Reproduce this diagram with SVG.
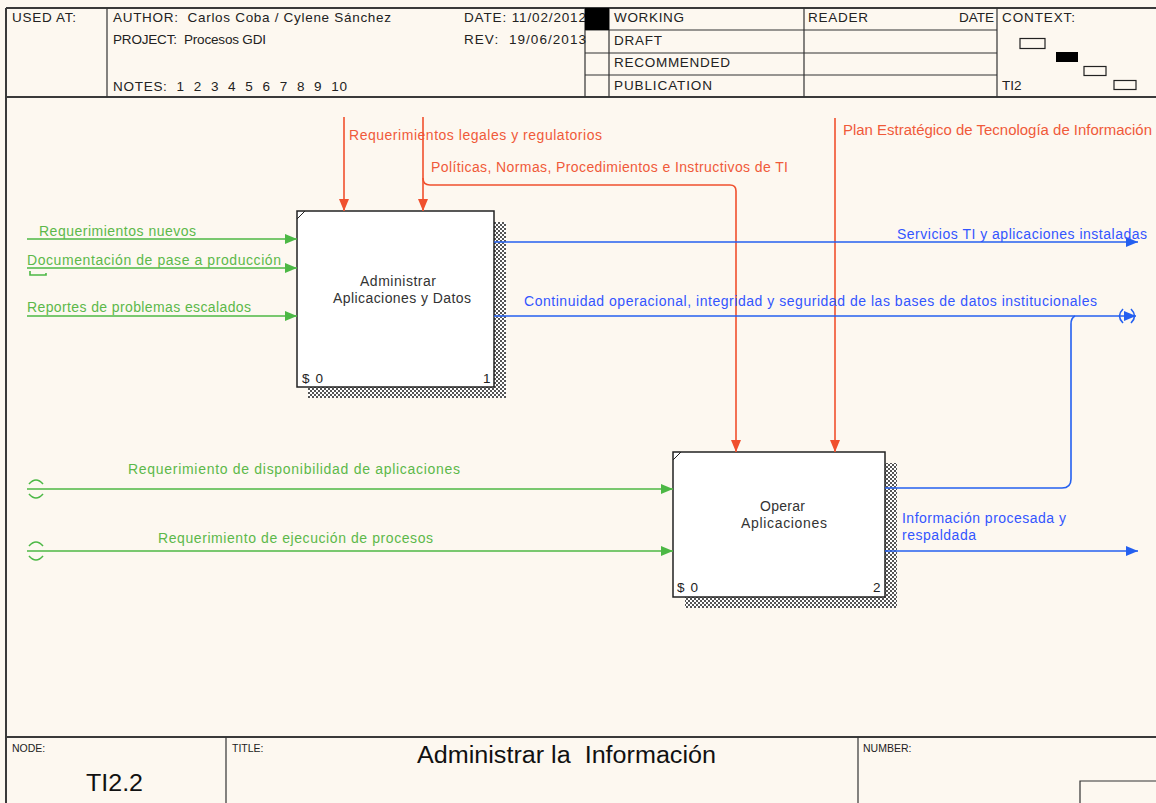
<svg xmlns="http://www.w3.org/2000/svg" width="1156" height="803" viewBox="0 0 1156 803">
  <style>
    text { font-family: "Liberation Sans", Arial, sans-serif; white-space: pre; }
    .hdr { font-size: 13.5px; fill: #222; }
    .small { font-size: 10.5px; fill: #222; }
    .frame { stroke: #3a3a3a; stroke-width: 2; fill: none; }
    .thin { stroke: #333; stroke-width: 1.2; fill: none; }
    .box { fill: #ffffff; stroke: #222; stroke-width: 1.5; }
    .ntext { font-size: 14px; fill: #333; }
    .corner { font-size: 13.5px; fill: #222; }
    .g { stroke: #4cb845; stroke-width: 1.6; fill: none; }
    .r { stroke: #f0502e; stroke-width: 1.6; fill: none; }
    .b { stroke: #2460f0; stroke-width: 1.6; fill: none; }
    .gt { font-size: 14px; fill: #5cb84a; }
    .rt { font-size: 14px; fill: #f05a3a; }
    .bt { font-size: 14px; fill: #3355ff; }
  </style>
  <defs>
    <pattern id="hatch" width="4" height="4" patternUnits="userSpaceOnUse">
      <rect width="4" height="4" fill="#ffffff"/>
      <rect width="2" height="2" fill="#555"/>
      <rect x="2" y="2" width="2" height="2" fill="#555"/>
    </pattern>
    <marker id="ag" viewBox="0 0 12 10" refX="12" refY="5" markerWidth="12" markerHeight="10" markerUnits="userSpaceOnUse" orient="auto">
      <path d="M0 0 L12 5 L0 10 z" fill="#4cb845"/>
    </marker>
    <marker id="ar" viewBox="0 0 12 10" refX="12" refY="5" markerWidth="12" markerHeight="10" markerUnits="userSpaceOnUse" orient="auto">
      <path d="M0 0 L12 5 L0 10 z" fill="#f0502e"/>
    </marker>
    <marker id="ab" viewBox="0 0 12 10" refX="12" refY="5" markerWidth="12" markerHeight="10" markerUnits="userSpaceOnUse" orient="auto">
      <path d="M0 0 L12 5 L0 10 z" fill="#2460f0"/>
    </marker>
  </defs>

  <!-- sheet -->
  <rect width="1156" height="803" fill="#fdf8f0"/>

  <!-- header block -->
  <g id="header">
    <line class="frame" x1="6" y1="8" x2="1156" y2="8"/>
    <line class="frame" x1="6" y1="97" x2="1156" y2="97"/>
    <line class="thin" x1="107" y1="8" x2="107" y2="97"/>
    <line class="thin" x1="585" y1="8" x2="585" y2="97"/>
    <line class="thin" x1="609" y1="8" x2="609" y2="97"/>
    <line class="thin" x1="804" y1="8" x2="804" y2="97"/>
    <line class="thin" x1="997" y1="8" x2="997" y2="97"/>
    <line class="thin" x1="585" y1="30" x2="997" y2="30"/>
    <line class="thin" x1="585" y1="53" x2="997" y2="53"/>
    <line class="thin" x1="585" y1="75" x2="997" y2="75"/>
    <text class="hdr" x="12" y="22" textLength="64" lengthAdjust="spacing">USED AT:</text>
    <text class="hdr" x="113" y="22" textLength="278" lengthAdjust="spacing">AUTHOR:  Carlos Coba / Cylene Sánchez</text>
    <text class="hdr" x="113" y="44" textLength="153" lengthAdjust="spacing">PROJECT:  Procesos GDI</text>
    <text class="hdr" x="113" y="91" textLength="234" lengthAdjust="spacing">NOTES:  1  2  3  4  5  6  7  8  9  10</text>
    <text class="hdr" x="464" y="22" textLength="122" lengthAdjust="spacing">DATE: 11/02/2012</text>
    <text class="hdr" x="464" y="44" textLength="122" lengthAdjust="spacing">REV:  19/06/2013</text>
    <rect x="585" y="8" width="24" height="22" fill="#000"/>
    <text class="hdr" x="614" y="22" textLength="70" lengthAdjust="spacing">WORKING</text>
    <text class="hdr" x="614" y="45" textLength="48" lengthAdjust="spacing">DRAFT</text>
    <text class="hdr" x="614" y="67" textLength="116" lengthAdjust="spacing">RECOMMENDED</text>
    <text class="hdr" x="614" y="90" textLength="98" lengthAdjust="spacing">PUBLICATION</text>
    <text class="hdr" x="808" y="22" textLength="60" lengthAdjust="spacing">READER</text>
    <text class="hdr" x="994" y="22" text-anchor="end">DATE</text>
    <text class="hdr" x="1002" y="22" textLength="73" lengthAdjust="spacing">CONTEXT:</text>
    <text class="hdr" x="1002" y="90">TI2</text>
    <rect x="1020" y="38.5" width="25" height="10" fill="none" stroke="#222" stroke-width="1.2"/>
    <rect x="1056" y="52" width="22" height="10" fill="#000"/>
    <rect x="1084" y="66.5" width="22" height="9" fill="none" stroke="#222" stroke-width="1.2"/>
    <rect x="1114" y="80.5" width="22" height="9" fill="none" stroke="#222" stroke-width="1.2"/>
  </g>

  <!-- left border and footer -->
  <g id="footer">
    <line class="frame" x1="6" y1="8" x2="6" y2="803"/>
    <line class="frame" x1="6" y1="737" x2="1156" y2="737"/>
    <line class="thin" x1="226" y1="737" x2="226" y2="803"/>
    <line class="thin" x1="858" y1="737" x2="858" y2="803"/>
    <polyline class="thin" points="1080,803 1080,781 1156,781"/>
    <text class="small" x="12" y="752">NODE:</text>
    <text x="86" y="791" font-size="24" fill="#111" textLength="57" lengthAdjust="spacingAndGlyphs">TI2.2</text>
    <text class="small" x="232" y="752">TITLE:</text>
    <text x="417" y="763" font-size="23" fill="#111" textLength="299" lengthAdjust="spacingAndGlyphs">Administrar la  Información</text>
    <text class="small" x="863" y="752">NUMBER:</text>
  </g>

  <!-- activity 1 -->
  <g id="node1">
    <rect x="494" y="222" width="12" height="176" fill="url(#hatch)"/>
    <rect x="308" y="387" width="198" height="11" fill="url(#hatch)"/>
    <rect class="box" x="297" y="211" width="197" height="176"/>
    <line x1="297" y1="219" x2="305" y2="211" stroke="#222" stroke-width="1"/>
    <text class="ntext" x="360" y="286" textLength="76" lengthAdjust="spacing">Administrar</text>
    <text class="ntext" x="333" y="303" textLength="138" lengthAdjust="spacing">Aplicaciones y Datos</text>
    <text class="corner" x="302" y="383" textLength="21" lengthAdjust="spacing">$ 0</text>
    <text class="corner" x="483" y="383">1</text>
  </g>

  <!-- activity 2 -->
  <g id="node2">
    <rect x="885" y="463" width="12" height="145" fill="url(#hatch)"/>
    <rect x="685" y="597" width="212" height="11" fill="url(#hatch)"/>
    <rect class="box" x="673" y="452" width="212" height="145"/>
    <line x1="673" y1="460" x2="681" y2="452" stroke="#222" stroke-width="1"/>
    <text class="ntext" x="760" y="511" textLength="45" lengthAdjust="spacing">Operar</text>
    <text class="ntext" x="741" y="528" textLength="86" lengthAdjust="spacing">Aplicaciones</text>
    <text class="corner" x="677" y="592" textLength="21" lengthAdjust="spacing">$ 0</text>
    <text class="corner" x="873" y="592">2</text>
  </g>

  <!-- connectors -->
  <g id="connectors">
    <!-- inputs -->
    <path class="g" d="M27 239 H297" marker-end="url(#ag)"/>
    <text class="gt" x="39" y="236" textLength="157" lengthAdjust="spacing">Requerimientos nuevos</text>
    <path class="g" d="M27 268 H297" marker-end="url(#ag)"/>
    <text class="gt" x="27" y="265" textLength="254" lengthAdjust="spacing">Documentación de pase a producción</text>
    <path class="g" d="M30 271 V275 H46 V273" stroke-width="1.2"/>
    <path class="g" d="M27 316 H297" marker-end="url(#ag)"/>
    <text class="gt" x="27" y="312" textLength="224" lengthAdjust="spacing">Reportes de problemas escalados</text>

    <path class="g" d="M27 489 H673" marker-end="url(#ag)"/>
    <path class="g" d="M29 484 Q36 476 43 484 M29 494 Q36 502 43 494" stroke-width="1.2"/>
    <text class="gt" x="128" y="474" textLength="332" lengthAdjust="spacing">Requerimiento de disponibilidad de aplicaciones</text>
    <path class="g" d="M27 551 H673" marker-end="url(#ag)"/>
    <path class="g" d="M29 546 Q36 538 43 546 M29 556 Q36 564 43 556" stroke-width="1.2"/>
    <text class="gt" x="158" y="543" textLength="275" lengthAdjust="spacing">Requerimiento de ejecución de procesos</text>

    <!-- controls -->
    <path class="r" d="M344 117 V211" marker-end="url(#ar)"/>
    <text class="rt" x="349" y="140" textLength="253" lengthAdjust="spacing">Requerimientos legales y regulatorios</text>
    <path class="r" d="M423 117 V211" marker-end="url(#ar)"/>
    <path class="r" d="M423 178 Q423 185 430 185 H730 Q736 185 736 191 V452" marker-end="url(#ar)"/>
    <text class="rt" x="431" y="172" textLength="357" lengthAdjust="spacing">Políticas, Normas, Procedimientos e Instructivos de TI</text>
    <path class="r" d="M835 118 V452" marker-end="url(#ar)"/>
    <text class="rt" x="843" y="135" textLength="309" lengthAdjust="spacingAndGlyphs">Plan Estratégico de Tecnología de Información</text>

    <!-- outputs -->
    <path class="b" d="M494 242 H1138" marker-end="url(#ab)"/>
    <text class="bt" x="897" y="239" textLength="250" lengthAdjust="spacing">Servicios TI y aplicaciones instaladas</text>
    <path class="b" d="M494 316 H1136" marker-end="url(#ab)"/>
    <path class="b" d="M1123 309 Q1116 316 1123 323 M1131 309 Q1138 316 1131 323" stroke-width="1.2"/>
    <text class="bt" x="524" y="306" textLength="573" lengthAdjust="spacing">Continuidad operacional, integridad y seguridad de las bases de datos institucionales</text>
    <path class="b" d="M885 488 H1062 Q1071 488 1071 479 V324 Q1071 318 1075 316"/>
    <path class="b" d="M885 551 H1138" marker-end="url(#ab)"/>
    <text class="bt" x="902" y="523" textLength="164" lengthAdjust="spacing">Información procesada y</text>
    <text class="bt" x="902" y="540" textLength="74" lengthAdjust="spacing">respaldada</text>
  </g>
</svg>
